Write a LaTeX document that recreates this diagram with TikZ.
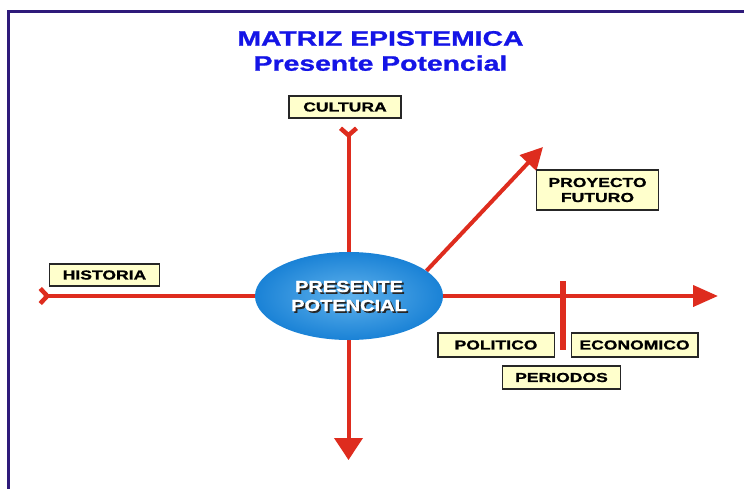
\documentclass[tikz,border=0pt]{standalone}
\usepackage{fontspec}
\setmainfont{Liberation Sans}[BoldFeatures={FakeBold=1}]
\usepackage{xcolor}
\usetikzlibrary{arrows.meta,positioning,backgrounds,shapes.geometric}

\definecolor{framepurple}{RGB}{46,26,122}
\definecolor{titleblue}{RGB}{20,20,230}
\definecolor{axisred}{RGB}{222,44,30}
\definecolor{labelfill}{RGB}{255,255,204}
\definecolor{blobout}{RGB}{26,130,214}
\definecolor{blobin}{RGB}{96,178,236}

\begin{document}
\begin{tikzpicture}[
  x=1pt, y=-1pt,
  ttl/.style={xscale=1.35, text=titleblue, anchor=base, inner sep=0pt,
              font=\fontsize{21}{25}\selectfont\bfseries},
  lbl/.style={xscale=1.35, draw=black!85, line width=1.1pt, fill=labelfill,
              align=center, inner sep=0pt, font=\fontsize{13}{15}\selectfont\bfseries},
  blob/.style={ellipse, minimum width=188pt, minimum height=88pt, inner sep=0pt,
               inner color=blobin, outer color=blobout},
  blobtxt/.style={xscale=1.25, align=center, inner sep=0pt,
                  font=\fontsize{16}{19}\selectfont\bfseries},
  axis/.style={draw=axisred, line width=4pt}
]
\useasboundingbox (0,0) rectangle (744,488);
\clip (0,0) rectangle (744,488);

% title
\node[ttl] (ttl1) at (380.5,45.7) {MATRIZ EPISTEMICA};
\node[ttl] (ttl2) at (380.5,70.7) {Presente Potencial};

% centre
\node[blob] (pp) at (349,296) {};
\node[blobtxt, text=black!85] (ppshade) at ([shift={(1.8,1.8)}]pp.center) {PRESENTE\\POTENCIAL};
\node[blobtxt, text=white] (pptext) at (pp.center) {PRESENTE\\POTENCIAL};

% labels
\node[lbl, minimum width=83pt, minimum height=22pt] (cult) at (345,107) {CULTURA};
\node[lbl, minimum width=82pt, minimum height=22pt] (hist) at (104.5,275) {HISTORIA};
\node[lbl, minimum width=90pt, minimum height=40pt] (proy) at (597.5,190) {PROYECTO\\FUTURO};
\node[lbl, minimum width=86pt, minimum height=24pt] (poli) at (496,345) {POLITICO};
\node[lbl, minimum width=94pt, minimum height=24pt] (econ) at (634.5,345) {ECONOMICO};
\node[lbl, minimum width=87pt, minimum height=23pt] (peri) at (561.5,377.5) {PERIODOS};

% axis ends
\coordinate (wtail) at (38,296);
\coordinate (eend)  at (718,296);
\coordinate (ntail) at (348.5,126);
\coordinate (send)  at (348.5,460);
\coordinate (netip) at (543,147);
\coordinate (tktop) at (563,281);
\coordinate (tkbot) at (563,350);

\begin{scope}[on background layer]
  \draw[framepurple, line width=3pt] (8,500) |- (760,11);
  \draw[axis, {Straight Barb[reversed,length=7pt,width=15pt,line width=4.5pt]}-{Triangle[length=25pt,width=21pt]}] (wtail) -- (eend);
  \draw[axis, {Straight Barb[reversed,length=7pt,width=16pt,line width=4.5pt]}-{Triangle[length=22pt,width=28pt]}] (ntail) -- (send);
  \draw[axis, -{Triangle[length=22pt,width=22pt]}] (pp.18) -- (netip);
  \draw[axis, line width=5.5pt] (tktop) -- (tkbot);
\end{scope}
\end{tikzpicture}
\end{document}
